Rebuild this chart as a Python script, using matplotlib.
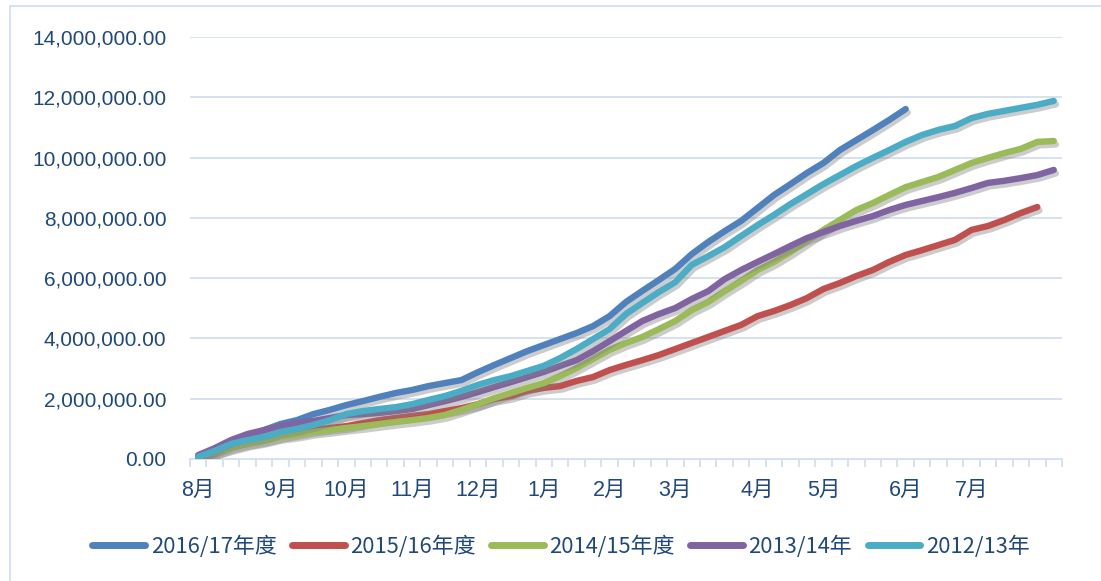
import matplotlib
matplotlib.use("Agg")
import matplotlib.pyplot as plt
import matplotlib.patheffects as pe
from matplotlib.lines import Line2D
from matplotlib.ticker import FuncFormatter, FixedLocator, MultipleLocator

# cumulative values, million units, one point per week starting in August
s2016_17 = [0.07, 0.30, 0.53, 0.76, 0.96, 1.16, 1.29, 1.49, 1.63, 1.79,
            1.92, 2.06, 2.19, 2.29, 2.42, 2.52, 2.62, 2.88, 3.12, 3.35,
            3.58, 3.78, 3.98, 4.18, 4.41, 4.74, 5.21, 5.58, 5.94, 6.31,
            6.80, 7.20, 7.56, 7.90, 8.33, 8.76, 9.12, 9.49, 9.82, 10.25,
            10.58, 10.91, 11.25, 11.61]
s2015_16 = [0.07, 0.20, 0.40, 0.53, 0.63, 0.76, 0.86, 0.96, 1.03, 1.09,
            1.19, 1.29, 1.36, 1.43, 1.49, 1.59, 1.69, 1.82, 1.99, 2.09,
            2.26, 2.36, 2.42, 2.59, 2.72, 2.95, 3.12, 3.28, 3.45, 3.65,
            3.85, 4.05, 4.25, 4.45, 4.74, 4.91, 5.11, 5.34, 5.64, 5.84,
            6.07, 6.27, 6.54, 6.77, 6.93, 7.10, 7.27, 7.60, 7.73, 7.93,
            8.16, 8.36]
s2014_15 = [0.10, 0.20, 0.36, 0.50, 0.60, 0.73, 0.80, 0.90, 0.96, 1.03,
            1.09, 1.16, 1.23, 1.29, 1.36, 1.46, 1.63, 1.82, 2.02, 2.19,
            2.36, 2.52, 2.75, 3.02, 3.32, 3.62, 3.85, 4.05, 4.31, 4.58,
            4.94, 5.21, 5.57, 5.91, 6.27, 6.54, 6.87, 7.23, 7.60, 7.93,
            8.26, 8.49, 8.76, 9.02, 9.19, 9.36, 9.59, 9.82, 9.99, 10.15,
            10.29, 10.52, 10.55]
s2013_14 = [0.13, 0.36, 0.63, 0.83, 0.96, 1.09, 1.19, 1.26, 1.36, 1.46,
            1.49, 1.53, 1.59, 1.66, 1.79, 1.92, 2.06, 2.22, 2.39, 2.55,
            2.72, 2.89, 3.09, 3.28, 3.58, 3.91, 4.25, 4.58, 4.81, 5.01,
            5.31, 5.57, 5.97, 6.27, 6.54, 6.80, 7.07, 7.33, 7.53, 7.73,
            7.90, 8.06, 8.26, 8.43, 8.56, 8.69, 8.83, 8.99, 9.16, 9.23,
            9.32, 9.42, 9.59]
s2012_13 = [0.07, 0.27, 0.50, 0.63, 0.73, 0.90, 1.00, 1.13, 1.29, 1.49,
            1.59, 1.66, 1.72, 1.82, 1.96, 2.09, 2.26, 2.46, 2.62, 2.75,
            2.92, 3.09, 3.35, 3.65, 3.98, 4.31, 4.81, 5.18, 5.54, 5.87,
            6.44, 6.73, 7.03, 7.40, 7.76, 8.10, 8.46, 8.79, 9.12, 9.42,
            9.72, 9.99, 10.25, 10.52, 10.75, 10.92, 11.05, 11.31, 11.45, 11.55,
            11.65, 11.75, 11.88]

series_names = ["2016/17年度", "2015/16年度", "2014/15年度", "2013/14年", "2012/13年"]
colors = ["#4F81BD", "#C0504D", "#9BBB59", "#8064A2", "#4BACC6"]
n_weeks = 53
month_pos = [0, 5, 9, 13, 17, 21, 25, 29, 34, 38, 43, 47]
month_labels = ["8月", "9月", "10月", "11月", "12月", "1月", "2月", "3月",
                "4月", "5月", "6月", "7月"]

txt = "#1F497D"
grid_c = "#D6E2F1"

fig = plt.figure(figsize=(11.01, 5.81), dpi=100)
ax = fig.add_axes([190 / 1101, 1 - 459 / 581, 872 / 1101, 422 / 581])

data = [s2016_17, s2015_16, s2014_15, s2013_14, s2012_13]
shadow = [pe.SimpleLineShadow(offset=(1.5, -2.5), shadow_color="#808080", alpha=0.4),
          pe.Normal()]
for i, (vals, name, c) in enumerate(zip(data, series_names, colors)):
    y = [v * 1e6 for v in vals]
    ax.plot(range(len(y)), y, color=c, lw=4.6, label=name,
            solid_capstyle="round", solid_joinstyle="round",
            path_effects=shadow, zorder=3 + i)

ax.set_xlim(-0.5, n_weeks - 0.5)
ax.set_ylim(0, 14e6)
ax.yaxis.set_major_locator(MultipleLocator(2e6))
ax.yaxis.set_major_formatter(FuncFormatter(lambda v, p: f"{v:,.2f}"))
ax.grid(axis="y", color=grid_c, lw=1.4)
ax.set_axisbelow(True)

for s in ["top", "right", "left"]:
    ax.spines[s].set_visible(False)
ax.spines["bottom"].set_color(grid_c)
ax.spines["bottom"].set_linewidth(1.4)

ax.xaxis.set_major_locator(FixedLocator(month_pos))
ax.set_xticklabels(month_labels)
ax.xaxis.set_minor_locator(FixedLocator([k - 0.5 for k in range(n_weeks + 1)]))
ax.tick_params(axis="x", which="major", length=0, pad=15, labelsize=15.5,
               labelcolor=txt)
ax.tick_params(axis="x", which="minor", length=6, width=1.4, color=grid_c)
ax.tick_params(axis="y", length=0, pad=17, labelsize=15, labelcolor=txt)
for lab in ax.get_xticklabels():
    lab.set_family(["Liberation Sans", "Noto Sans CJK SC"])
for lab in ax.get_yticklabels():
    lab.set_family("Liberation Sans")

leg = fig.legend(loc="center", bbox_to_anchor=(561 / 1101, 1 - 547 / 581), ncol=5,
                 frameon=False, handlelength=2.4, handletextpad=0.25,
                 columnspacing=0.7, prop={"family": ["Noto Sans CJK SC"], "size": 15.8})
for t in leg.get_texts():
    t.set_color(txt)
for h in leg.legend_handles:
    h.set_path_effects([pe.Normal()])
    h.set_solid_capstyle("round")
    h.set_linewidth(5)

# chart area border
fig.add_artist(Line2D([10 / 1101, 10 / 1101], [0, 1 - 6 / 581], color=grid_c, lw=1.4))
fig.add_artist(Line2D([10 / 1101, 1], [1 - 6 / 581, 1 - 6 / 581], color=grid_c, lw=1.4))

fig.savefig("out.png", dpi=100)
